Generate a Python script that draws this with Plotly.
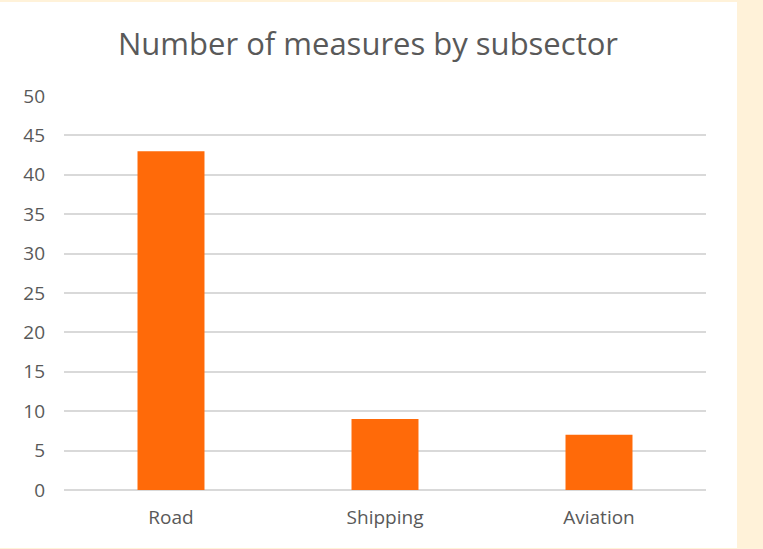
import plotly.graph_objects as go

categories = ["Road", "Shipping", "Aviation"]
values = [43, 9, 7]
y_ticks = [0, 5, 10, 15, 20, 25, 30, 35, 40, 45, 50]

W, H = 763, 549
L, R, T, B = 64, 57, 96, 59
pw, ph = W - L - R, H - T - B

def px_x(x):
    return (x - L) / pw

def px_y(y):
    return (H - B - y) / ph

fig = go.Figure()
fig.add_trace(go.Bar(x=categories, y=values, marker=dict(color="#FF6A09", line=dict(width=0)),
                     hoverinfo="x+y"))

fig.add_shape(type="rect", xref="paper", yref="paper", layer="below",
              x0=px_x(0), x1=px_x(737), y0=px_y(548), y1=px_y(2),
              fillcolor="white", line=dict(width=0))

fig.update_layout(
    width=W, height=H,
    margin=dict(l=L, r=R, t=T, b=B),
    paper_bgcolor="#FFF2D9",
    plot_bgcolor="white",
    bargap=0.687,
    showlegend=False,
    font=dict(family="Open Sans", color="#595959"),
    title=dict(text="Number of measures by subsector", x=368 / W, xanchor="center",
               y=1 - 44 / H, yanchor="middle", font=dict(size=31, color="#595959")),
    xaxis=dict(showgrid=False, tickfont=dict(size=19, color="#595959"), ticks="",
               showline=False, ticklabelstandoff=14),
    yaxis=dict(range=[0, 50], tickvals=y_ticks, showgrid=True, gridcolor="#D9D9D9",
               gridwidth=2, zeroline=True, zerolinecolor="#D9D9D9", zerolinewidth=2,
               tickfont=dict(size=19, color="#595959"), ticks="", showline=False,
               ticklabelstandoff=18),
)

fig.write_html("out.html", config={"displayModeBar": False},
               post_script="document.body.style.margin='0';document.body.style.padding='0';")
